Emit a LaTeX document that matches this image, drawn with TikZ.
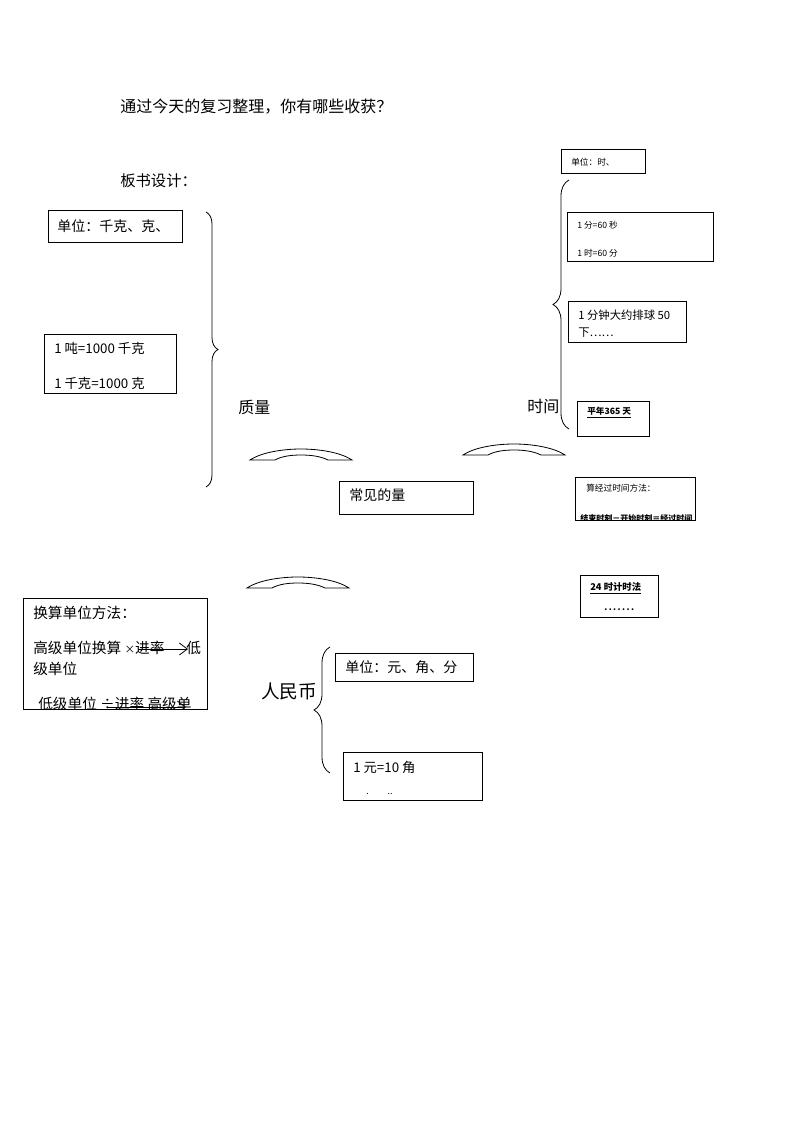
\documentclass[tikz,border=0pt]{standalone}
\usepackage{fontspec}
\setmainfont{Noto Sans CJK SC}
\usepackage{xcolor}
\usetikzlibrary{decorations.pathreplacing,fit,arrows.meta,positioning}

\newcommand\fsz[1]{\fontsize{#1}{#1}\selectfont}

\begin{document}
\begin{tikzpicture}
            [x=0.75pt,y=-0.75pt,
            box/.style = {draw, line width=0.75pt, inner sep=0pt},
            txt/.style = {anchor=west, inner sep=0pt, font=\fsz{10.5}},
            tiny/.style = {txt, font=\fsz{6.5}},
            brc/.style = {decorate, line width=0.6pt,
                        decoration={brace, amplitude=#1}},
            bow/.pic = {\draw[line width=0.6pt] (0,0)
                        .. controls (12,-8) and (34,-11) .. (51,-11)
                        .. controls (68,-11) and (90,-8) .. (102,0)
                        -- (78,0) .. controls (70,-4) and (60,-5) .. (51,-5)
                        .. controls (42,-5) and (32,-4) .. (25,0) -- cycle;}]
            \useasboundingbox (0,0) rectangle (794,1123);
            % Titulos
            \node[txt, font=\fsz{12}] (title) at (120,107) {通过今天的复习整理，你有哪些收获？};
            \node[txt, font=\fsz{11.5}] (board) at (120,181) {板书设计：};

            % Masa
            \node[box, fit={(48,211) (182,242)}] (kgunit) {};
            \node[txt] (kgunitt) at (57,226) {单位：千克、克、};
            \node[box, fit={(44,334) (176,393)}] (kgrate) {};
            \begin{scope}
                \clip (kgrate.north west) rectangle (kgrate.south east);
                \node[txt, font=\fsz{10}] (kgrate1) at (54,348) {1 吨=1000 千克};
                \node[txt, font=\fsz{10}] (kgrate2) at (54,383) {1 千克=1000 克};
            \end{scope}
            \draw[brc=9pt] (206,212) -- (206,487);
            \node[txt, font=\fsz{12}] (mass) at (238,407) {质量};
            \pic at (250,460) {bow};

            % Centro
            \node[box, fit={(339,481) (473,514)}] (common) {};
            \node[txt] (commont) at (349,495) {常见的量};
            \pic at (463,455) {bow};
            \pic at (247,588) {bow};

            % Tiempo
            \node[txt, font=\fsz{12}] (timeq) at (527,406) {时间};
            \draw[brc=12pt] (569,429) -- (569,180);
            \node[box, fit={(561,150) (645,174)}] (hunit) {};
            \node[tiny] (hunitt) at (571,162) {单位：时、};
            \node[box, fit={(567,213) (713,261)}] (hrate) {};
            \node[tiny] (hrate1) at (577,225) {1 分=60 秒};
            \node[tiny] (hrate2) at (577,253) {1 时=60 分};
            \node[box, fit={(568,301) (686,342)}] (minute) {};
            \node[txt, font=\fsz{8.5}] (minute1) at (578,315) {1 分钟大约排球 50};
            \node[txt, font=\fsz{8.5}] (minute2) at (578,333) {下……};
            \node[box, fit={(577,401) (649,436)}] (year) {};
            \node[tiny] (yeart) at (587,413) {\underline{\textbf{平年365 天}}};
            \node[box, fit={(575,477) (695,520)}] (elapsed) {};
            \node[tiny] (elapsed1) at (586,488) {算经过时间方法：};
            \begin{scope}
                \clip (elapsed.north west) rectangle (elapsed.south east);
                \node[tiny, font=\fsz{6}] (elapsed2) at (580,518) {\textbf{结束时刻－开始时刻＝经过时间}};
            \end{scope}
            \node[box, fit={(580,575) (658,617)}] (clock) {};
            \node[tiny, font=\fsz{7}] (clockt) at (590,588) {\underline{\textbf{24 时计时法}}};
            \node[tiny] (clockd) at (604,610) {\textbf{.\,.\,.\,.\,.\,.\,.}};

            % Conversion
            \node[box, fit={(23,598) (207,709)}] (convert) {};
            \begin{scope}
                \clip (convert.north west) rectangle (convert.south east);
                \node[txt, font=\fsz{11}] (conv1) at (33,613) {换算单位方法：};
                \node[txt, font=\fsz{11}] (conv2) at (33,648) {高级单位换算 {\fsz{8}×}进率};
                \node[txt, font=\fsz{11}] (conv2b) at (186,648) {低};
                \node[txt, font=\fsz{11}] (conv3) at (33,669) {级单位};
                \node[txt, font=\fsz{11}] (conv4) at (38,704) {低级单位 ÷进率 高级单};
                \coordinate (arrA) at (138,649);
                \coordinate (arrB) at (188,649);
                \coordinate (arrC) at (108,707);
                \coordinate (arrD) at (186,707);
                \draw[line width=0.6pt, -{Straight Barb[length=6pt,width=9pt]}] (arrA) -- (arrB);
                \draw[line width=0.6pt, -{Straight Barb[length=6pt,width=9pt]}] (arrC) -- (arrD);
            \end{scope}

            % Dinero
            \node[txt, font=\fsz{14}] (rmb) at (261,691) {人民币};
            \draw[brc=12pt] (330,773) -- (330,647);
            \node[box, fit={(335,653) (473,681)}] (rmbunit) {};
            \node[txt] (rmbunitt) at (345,667) {单位：元、角、分};
            \node[box, fit={(343,752) (482,800)}] (rmbrate) {};
            \node[txt, font=\fsz{10}] (rmbrate1) at (353,767) {1 元=10 角};
            \node[tiny] (rmbrate2) at (366,794) {.\hspace{2.2em}..};
        \end{tikzpicture}
\end{document}
